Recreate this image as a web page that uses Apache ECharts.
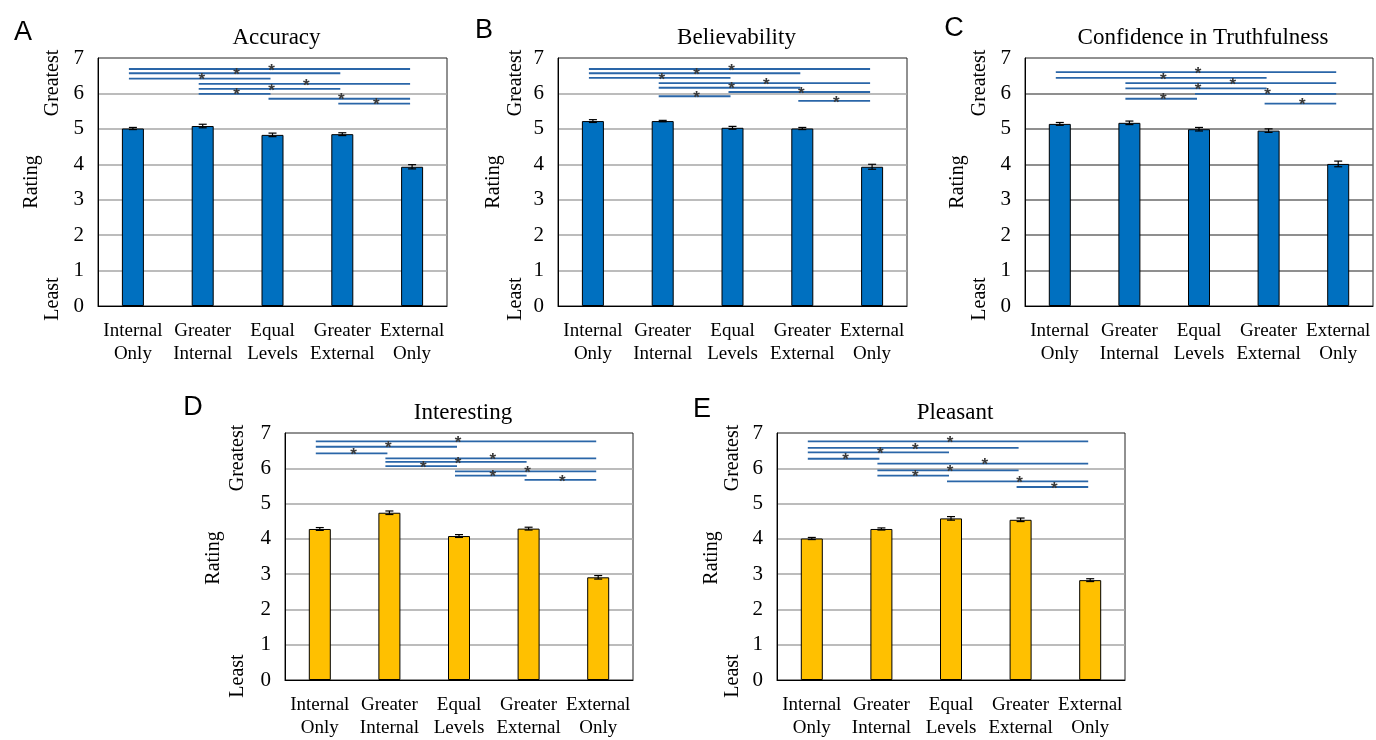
<!DOCTYPE html>
<html>
<head>
<meta charset="utf-8">
<script src="https://cdn.jsdelivr.net/npm/echarts@6/dist/echarts.min.js"></script>
<style>
html,body{margin:0;padding:0;background:#fff;}
#chart{width:1376px;height:740px;}
</style>
</head>
<body>
<div id="chart"></div>
<script>
// ---------- data ----------
const categories = ['Internal\nOnly', 'Greater\nInternal', 'Equal\nLevels', 'Greater\nExternal', 'External\nOnly'];
const yTicks = ['0', '1', '2', '3', '4', '5', '6', '7'];
const panelLetters = ['A', 'B', 'C', 'D', 'E'];
const panelTitles = ['Accuracy', 'Believability', 'Confidence in Truthfulness', 'Interesting', 'Pleasant'];

const accuracyMeans = [5.01, 5.08, 4.83, 4.85, 3.93];
const accuracyErr = [0.03, 0.05, 0.05, 0.04, 0.06];
const believabilityMeans = [5.22, 5.22, 5.03, 5.01, 3.93];
const believabilityErr = [0.04, 0.02, 0.04, 0.03, 0.07];
const confidenceMeans = [5.14, 5.17, 4.99, 4.95, 4.01];
const confidenceErr = [0.04, 0.05, 0.05, 0.05, 0.08];
const interestingMeans = [4.28, 4.74, 4.08, 4.29, 2.91];
const interestingErr = [0.04, 0.05, 0.04, 0.04, 0.05];
const pleasantMeans = [4.01, 4.28, 4.58, 4.54, 2.83];
const pleasantErr = [0.03, 0.03, 0.05, 0.05, 0.04];

// significance comparisons: [fromCategory, toCategory, rating level]
const accuracySig = [[0,4,6.69],[0,3,6.57],[0,2,6.42],[1,4,6.27],[1,3,6.13],[1,2,5.99],[2,4,5.85],[3,4,5.71]];
const believabilitySig = [[0,4,6.69],[0,3,6.57],[0,2,6.44],[1,4,6.29],[1,3,6.16],[2,4,6.04],[1,2,5.92],[3,4,5.79]];
const confidenceSig = [[0,4,6.60],[0,3,6.44],[1,4,6.29],[1,3,6.14],[2,4,5.99],[1,2,5.85],[3,4,5.71]];
const interestingSig = [[0,4,6.76],[0,2,6.61],[0,1,6.42],[1,4,6.28],[1,3,6.18],[1,2,6.06],[2,4,5.91],[2,3,5.79],[3,4,5.67]];
const pleasantSig = [[0,4,6.76],[0,3,6.58],[0,2,6.45],[0,1,6.27],[1,4,6.13],[1,3,5.94],[1,2,5.79],[2,4,5.63],[3,4,5.47]];

// ---------- layout / style ----------
const panels = [
  {means: accuracyMeans, err: accuracyErr, sig: accuracySig, left: 98, top: 58, width: 349, height: 248, color: '#0070C0', grid: '#a6a6a6', gOff: 45, rOff: 66},
  {means: believabilityMeans, err: believabilityErr, sig: believabilitySig, left: 558, top: 58, width: 349, height: 248, color: '#0070C0', grid: '#a6a6a6', gOff: 42, rOff: 64},
  {means: confidenceMeans, err: confidenceErr, sig: confidenceSig, left: 1025, top: 58, width: 348, height: 248, color: '#0070C0', grid: '#6a6a6a', gOff: 45, rOff: 67},
  {means: interestingMeans, err: interestingErr, sig: interestingSig, left: 285, top: 433, width: 348, height: 250, color: '#FFC000', grid: '#a6a6a6', gOff: 47, rOff: 71},
  {means: pleasantMeans, err: pleasantErr, sig: pleasantSig, left: 777, top: 433, width: 348, height: 250, color: '#FFC000', grid: '#a6a6a6', gOff: 44, rOff: 65}
];
const letterPos = [[23, 33], [484, 31], [954, 29], [193, 408], [702, 410]];

const SERIF = '"Liberation Serif", "Times New Roman", serif';
const SANS = '"Liberation Sans", Arial, sans-serif';

const grids = [], xAxes = [], yAxes = [], series = [], graphics = [];

panels.forEach((p, i) => {
  grids.push({left: p.left, top: p.top, width: p.width, height: p.height, show: true, borderColor: '#222', borderWidth: 1, containLabel: false});
  xAxes.push({
    type: 'category', gridIndex: i, data: categories,
    axisLine: {show: true, lineStyle: {color: '#000', width: 1}},
    axisTick: {show: false},
    axisLabel: {interval: 0, color: '#000', fontFamily: SERIF, fontSize: 19, lineHeight: 23, margin: 14}
  });
  yAxes.push({
    type: 'value', gridIndex: i, min: 0, max: 7, interval: 1,
    axisLine: {show: true, lineStyle: {color: '#000', width: 1}},
    axisTick: {show: false},
    axisLabel: {color: '#000', fontFamily: SERIF, fontSize: 21, margin: 14, formatter: v => yTicks[v]},
    splitLine: {show: true, showMinLine: false, showMaxLine: false, lineStyle: {color: p.grid, width: 1.5}}
  });
  series.push({
    type: 'bar', xAxisIndex: i, yAxisIndex: i, data: p.means, barWidth: 22,
    itemStyle: {color: p.color, borderColor: '#000', borderWidth: 1}, silent: true, z: 3
  });
  series.push({
    type: 'custom', xAxisIndex: i, yAxisIndex: i, z: 5, silent: true,
    data: p.means.map((m, k) => [k, m - p.err[k], m + p.err[k]]),
    renderItem: (params, api) => {
      const lo = api.coord([api.value(0), api.value(1)]);
      const hi = api.coord([api.value(0), api.value(2)]);
      const w = 4;
      const st = {stroke: '#000', lineWidth: 1.2};
      return {type: 'group', children: [
        {type: 'line', shape: {x1: lo[0], y1: lo[1], x2: hi[0], y2: hi[1]}, style: st},
        {type: 'line', shape: {x1: lo[0] - w, y1: lo[1], x2: lo[0] + w, y2: lo[1]}, style: st},
        {type: 'line', shape: {x1: hi[0] - w, y1: hi[1], x2: hi[0] + w, y2: hi[1]}, style: st}
      ]};
    }
  });
  series.push({
    type: 'custom', xAxisIndex: i, yAxisIndex: i, z: 6, silent: true,
    data: p.sig,
    renderItem: (params, api) => {
      const a = api.coord([api.value(0), api.value(2)]);
      const b = api.coord([api.value(1), api.value(2)]);
      const mx = (a[0] + b[0]) / 2;
      return {type: 'group', children: [
        {type: 'line', shape: {x1: a[0] - 4, y1: a[1], x2: b[0] - 2, y2: b[1]}, style: {stroke: '#2a66a8', lineWidth: 1.8}},
        {type: 'text', x: mx - 1, y: a[1] + 2, style: {text: '*', fill: '#3a3a3a', font: 'bold 17px ' + SANS, align: 'center', verticalAlign: 'middle'}}
      ]};
    }
  });
  // panel letter
  graphics.push({type: 'text', x: letterPos[i][0], y: letterPos[i][1], style: {text: panelLetters[i], fill: '#000', font: '27px ' + SANS, align: 'center', verticalAlign: 'middle'}});
  // title
  graphics.push({type: 'text', x: p.left + p.width / 2 + 4, y: p.top - 20, style: {text: panelTitles[i], fill: '#000', font: '23px ' + SERIF, align: 'center', verticalAlign: 'middle'}});
  // y-axis descriptive labels
  graphics.push({type: 'text', x: p.left - p.gOff, y: p.top + 25, rotation: Math.PI / 2, style: {text: 'Greatest', fill: '#000', font: '20px ' + SERIF, align: 'center', verticalAlign: 'middle'}});
  graphics.push({type: 'text', x: p.left - p.rOff, y: p.top + p.height / 2, rotation: Math.PI / 2, style: {text: 'Rating', fill: '#000', font: '20px ' + SERIF, align: 'center', verticalAlign: 'middle'}});
  graphics.push({type: 'text', x: p.left - p.gOff, y: p.top + p.height - 7, rotation: Math.PI / 2, style: {text: 'Least', fill: '#000', font: '20px ' + SERIF, align: 'center', verticalAlign: 'middle'}});
});

const chart = echarts.init(document.getElementById('chart'), null, {renderer: 'canvas'});
chart.setOption({
  backgroundColor: '#fff',
  animation: false,
  grid: grids,
  xAxis: xAxes,
  yAxis: yAxes,
  series: series,
  graphic: graphics
});
</script>
</body>
</html>
